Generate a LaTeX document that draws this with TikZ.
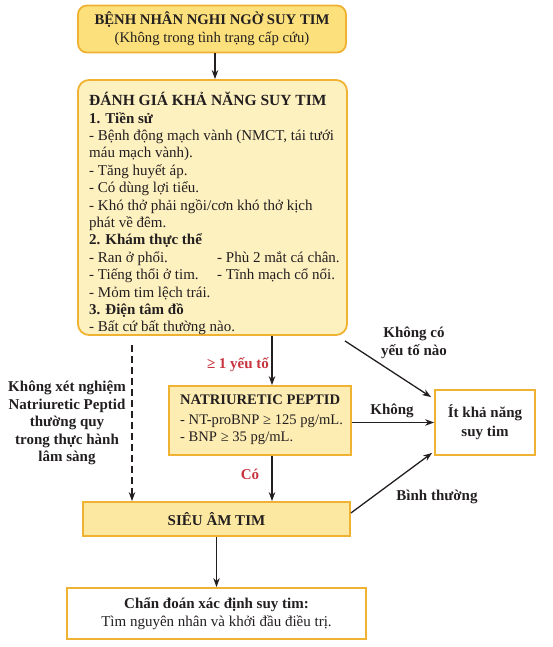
\documentclass[tikz,border=0pt]{standalone}
\usepackage{fontspec}
\setmainfont{Liberation Serif}
\usetikzlibrary{arrows.meta}
\definecolor{boxline}{HTML}{F0B232}
\definecolor{fillA}{HTML}{FBE07C}
\definecolor{fillB}{HTML}{FEF1C0}
\definecolor{fillC}{HTML}{FDEDB2}
\definecolor{fillD}{HTML}{FCE8A0}
\definecolor{redtxt}{HTML}{C8343E}
\definecolor{txt}{HTML}{231F20}
\begin{document}
\begin{tikzpicture}[x=1pt,y=-1pt,
  every node/.style={text=txt},
  fs/.style={font=\fontsize{15}{17.4}\selectfont},
  box/.style={draw=boxline, line width=1.8pt, inner sep=0pt, fs, align=center},
  arr/.style={draw=txt, line width=1.3pt, -{Stealth[length=9pt,width=6.5pt]}},
  lbl/.style={fs, font=\fontsize{15}{17.4}\selectfont\bfseries, align=center, inner sep=0pt},
  redlbl/.style={lbl, text=redtxt}]
\useasboundingbox (0,0) rectangle (552,647);
% boxes
\node[box, rounded corners=9pt, fill=fillA, minimum width=268, minimum height=47, font=\fontsize{14.7}{18}\selectfont] (top) at (212,29)
  {\textbf{BỆNH NHÂN NGHI NGỜ SUY TIM}\\(Không trong tình trạng cấp cứu)};
\node[box, rounded corners=11pt, fill=fillB, minimum width=269, minimum height=255] (main) at (212.5,207.5) {};
\node[fs, anchor=north west, align=left, inner sep=0pt] (maintext) at (89,92)
  {{\fontsize{15.5}{17.4}\selectfont\textbf{ĐÁNH GIÁ KHẢ NĂNG SUY TIM}}\\
   \textbf{1. Tiền sử}\\
   - Bệnh động mạch vành (NMCT, tái tưới\\
   máu mạch vành).\\
   - Tăng huyết áp.\\
   - Có dùng lợi tiểu.\\
   - Khó thở phải ngồi/cơn khó thở kịch\\
   phát về đêm.\\
   \textbf{2. Khám thực thể}\\
   \makebox[128pt][l]{- Ran ở phổi.}- Phù 2 mắt cá chân.\\
   \makebox[128pt][l]{- Tiếng thổi ở tim.}- Tĩnh mạch cổ nổi.\\
   - Mỏm tim lệch trái.\\
   \textbf{3. Điện tâm đồ}\\
   - Bất cứ bất thường nào.};
\node[box, fill=fillC, minimum width=182, minimum height=69] (np) at (260,420.5) {};
\node[anchor=north west, align=left, inner sep=0pt, font=\fontsize{14.6}{17}\selectfont] (nptext) at (180,395)
  {\textbf{NATRIURETIC PEPTID}\\[3pt]
   - NT-proBNP ≥ 125 pg/mL.\\
   - BNP ≥ 35 pg/mL.};
\node[box, fill=white, minimum width=100, minimum height=65, font=\fontsize{15}{19}\selectfont\bfseries] (it) at (485,422.5)
  {Ít khả năng\\suy tim};
\node[box, fill=fillD, minimum width=267, minimum height=34, font=\fontsize{15}{17.4}\selectfont\bfseries] (sa) at (216.5,519)
  {SIÊU ÂM TIM};
\node[box, fill=white, minimum width=299, minimum height=51, font=\fontsize{15}{18}\selectfont] (fin) at (216.5,613.5)
  {\textbf{Chẩn đoán xác định suy tim:}\\Tìm nguyên nhân và khởi đầu điều trị.};
% helper coordinates
\coordinate (c1) at (272,0);
\coordinate (c2) at (132,0);
% connectors
\draw[arr] ([xshift=3pt]top.south) -- ([xshift=2.5pt]main.north);
\draw[arr] (c1 |- main.south) -- (c1 |- np.north);
\draw[arr] ([shift={(-3pt,-5pt)}]main.south east) -- ([shift={(-3pt,-8pt)}]it.north west);
\draw[arr] (np.east |- it.west) -- (it.west);
\draw[arr] (c1 |- np.south) -- (c1 |- sa.north);
\draw[arr] ([yshift=6pt]sa.east) -- ([shift={(-2pt,3pt)}]it.south west);
\draw[arr, dash pattern=on 7pt off 4pt] ([yshift=-9pt]c2 |- main.south) -- (c2 |- sa.north);
\draw[arr] (sa.south) -- (fin.north);
% labels
\node[redlbl] (l1) at (238,365) {≥ 1 yếu tố};
\node[redlbl] (l2) at (250,474) {Có};
\node[lbl] (l3) at (414,343) {Không có\\yếu tố nào};
\node[lbl] (l4) at (392,411) {Không};
\node[lbl] (l5) at (437,497) {Bình thường};
\node[lbl] (l6) at (67,423) {Không xét nghiệm\\Natriuretic Peptid\\thường quy\\trong thực hành\\lâm sàng};
\end{tikzpicture}
\end{document}
